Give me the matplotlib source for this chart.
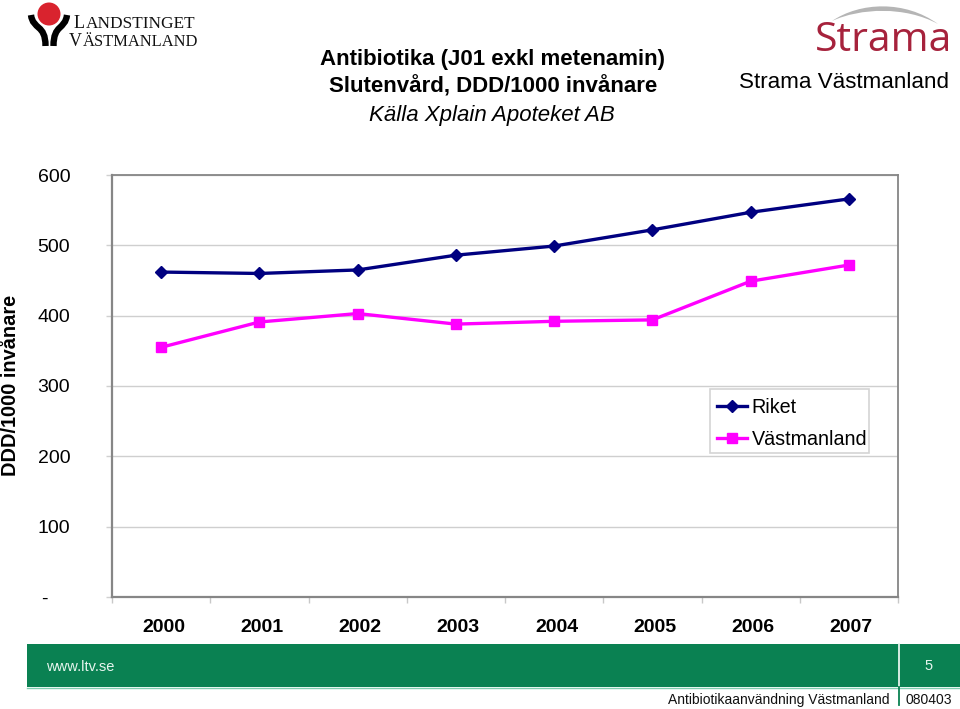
import matplotlib
matplotlib.use("Agg")
import matplotlib.pyplot as plt
from matplotlib.patches import Rectangle, Circle, PathPatch
from matplotlib.path import Path
from matplotlib.transforms import ScaledTranslation

plt.rcParams['font.family'] = ['Liberation Sans', 'DejaVu Sans']

years = ["2000", "2001", "2002", "2003", "2004", "2005", "2006", "2007"]
riket = [462, 460, 465, 486, 499, 522, 547, 566]
vastmanland = [355, 391, 403, 388, 392, 394, 449, 472]
yticks = [0, 100, 200, 300, 400, 500, 600]
ylabels = ["-", "100", "200", "300", "400", "500", "600"]

W, H = 960, 709
fig = plt.figure(figsize=(W / 100, H / 100), dpi=100)

# overlay in pixel coordinates for logos and footer
bg = fig.add_axes([0, 0, 1, 1])
bg.set_xlim(0, W)
bg.set_ylim(H, 0)
bg.axis("off")

ax = fig.add_axes([112 / W, 1 - 597 / H, (898 - 112) / W, (597 - 175) / H])
ax.patch.set_alpha(0)
x = range(len(years))
ax.plot(x, riket, color="#000080", lw=2.4, marker="D", ms=6.5, label="Riket")
ax.plot(x, vastmanland, color="#ff00ff", lw=2.4, marker="s", ms=7.5, label="Västmanland")
ax.set_xlim(-0.5, 7.5)
ax.set_ylim(0, 600)
ax.set_yticks(yticks)
ax.set_yticklabels(ylabels, fontsize=14)
ax.set_xticks([i - 0.5 for i in range(9)])
ax.set_xticklabels([])
ax.set_xticks(list(x), minor=True)
ax.set_xticklabels(years, minor=True, fontsize=14, fontweight="bold")
ax.tick_params(axis="x", which="major", length=4.5, color="#c8c8c8", width=1)
ax.tick_params(axis="x", which="minor", length=0, pad=16)
ax.tick_params(axis="y", length=4, color="#d0d0d0", width=1, pad=26)
shift = ScaledTranslation(2.5 / 100, 0, fig.dpi_scale_trans)
for lab in ax.get_xticklabels(minor=True):
    lab.set_transform(lab.get_transform() + shift)
# the zero label sits further left in the original
dash = ax.get_yticklabels()[0]
dash.set_transform(dash.get_transform() + ScaledTranslation(-23 / 100, 0, fig.dpi_scale_trans))
ax.grid(axis="y", color="#cfcfcf", lw=1)
ax.set_axisbelow(True)
for s in ax.spines.values():
    s.set_color("#868686")
    s.set_linewidth(1.3)
ax.spines["left"].set_linewidth(1.6)
ax.spines["bottom"].set_linewidth(1.6)

# legend frame drawn separately so the entries can sit where they should
bg.add_patch(Rectangle((710, 389), 159, 64, fc="white", ec="#d4d4d4", lw=1.2))
leg = ax.legend(loc="upper left", bbox_to_anchor=((710 - 112) / 786, (597 - 391) / 422),
                frameon=False, fontsize=14.2, handlelength=1.55, handletextpad=0.2,
                labelspacing=0.68, borderpad=0.35, borderaxespad=0)

fig.text(11 / W, 1 - 385 / H, "DDD/1000 invånare", rotation=90, ha="center", va="center",
         fontsize=14.4, fontweight="bold")

# titles
bg.text(493, 59, "Antibiotika (J01 exkl metenamin)", ha="center", va="center", fontsize=16, fontweight="bold")
bg.text(493, 87, "Slutenvård, DDD/1000 invånare", ha="center", va="center", fontsize=16, fontweight="bold")
bg.text(492, 115, "Källa Xplain Apoteket AB", ha="center", va="center", fontsize=16, style="italic")
bg.text(844, 83, "Strama Västmanland", ha="center", va="center", fontsize=16.1)

# Landstinget logo
bg.add_patch(Circle((49, 14), 11.5, color="#d9232e", lw=0))
arm_codes = [Path.MOVETO, Path.CURVE4, Path.CURVE4, Path.CURVE4]
for arm in ([(31, 15), (33, 30), (45.5, 24), (45.5, 46)], [(67, 15), (65, 30), (53.5, 24), (53.5, 46)]):
    bg.add_patch(PathPatch(Path(arm, arm_codes), fc="none", ec="black", lw=4.6, capstyle="butt"))
serif = "Liberation Serif"
bg.text(74, 28, "L", family=serif, fontsize=13, va="baseline", ha="left", color="#111111")
bg.text(86, 28, "ANDSTINGET", family=serif, fontsize=12.4, va="baseline", ha="left", color="#111111")
bg.text(69, 46.5, "V", family=serif, fontsize=13, va="baseline", ha="left", color="#111111")
bg.text(83, 46.5, "ÄSTMANLAND", family=serif, fontsize=11.9, va="baseline", ha="left", color="#111111")

# Strama logo
bg.text(883.5, 41, "Strama", ha="center", va="center", fontsize=29.5, color="#a6223c", family="Open Sans")
arc_top = [(832, 21), (860, 2), (905, 0), (938, 24)]
arc_low = [(938, 24), (905, 6), (860, 8), (832, 21)]
codes = [Path.MOVETO, Path.CURVE4, Path.CURVE4, Path.CURVE4, Path.LINETO, Path.CURVE4, Path.CURVE4, Path.CURVE4]
bg.add_patch(PathPatch(Path(arc_top + arc_low, codes), color="#b5b5b5", lw=0))

# footer
green = "#0a8152"
bg.add_patch(Rectangle((27, 644), 933, 43, color=green, lw=0))
bg.plot([27, 960], [687.5, 687.5], color="#7fcdb0", lw=1)
bg.plot([899, 899], [644, 687], color="#e8f4ee", lw=1.3)
bg.plot([899, 899], [687, 705], color=green, lw=1.3)
bg.text(46, 667, "www.ltv.se", color="#e6f5ee", fontsize=10.5, va="center", ha="left")
bg.text(929, 666, "5", color="#e6f5ee", fontsize=10.5, va="center", ha="center")
bg.text(890, 700, "Antibiotikaanvändning Västmanland", fontsize=10, va="center", ha="right", color="#111111")
bg.text(906, 700, "080403", fontsize=10, va="center", ha="left", color="#111111")

fig.savefig("out.png", dpi=100)
